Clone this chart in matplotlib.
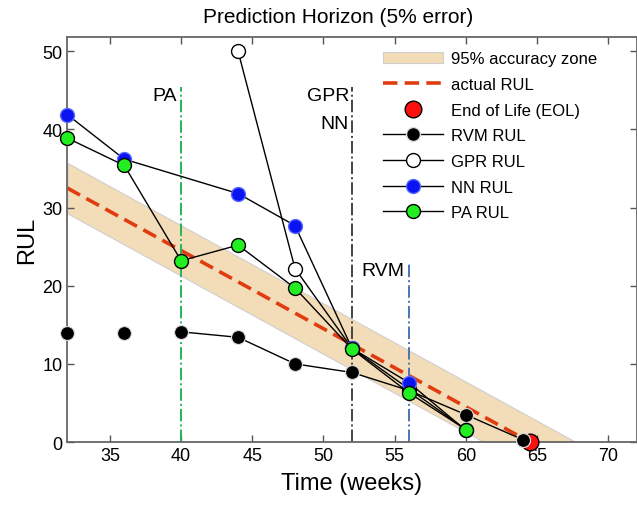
import matplotlib
matplotlib.use("Agg")
import matplotlib.pyplot as plt
import numpy as np

plt.rcParams['font.family'] = ['Liberation Sans', 'DejaVu Sans']

# ---- data ----
eol = 64.5
err = 0.05

rvm_t = [32, 36, 40, 44, 48, 52, 56, 60, 64]
rvm_y = [14.0, 14.0, 14.1, 13.4, 10.0, 8.9, 6.6, 3.5, 0.3]
gpr_t = [44, 48, 52, 56, 60]
gpr_y = [50.0, 22.2, 12.0, 6.8, 1.6]
nn_t = [32, 36, 44, 48, 52, 56, 60]
nn_y = [41.9, 36.2, 31.8, 27.7, 12.0, 7.6, 1.5]
pa_t = [32, 36, 40, 44, 48, 52, 56, 60]
pa_y = [38.9, 35.4, 23.2, 25.2, 19.7, 11.9, 6.3, 1.6]

horizon_t = {'PA': 40, 'GPR/NN': 52, 'RVM': 56}
horizon_top = {'PA': 45.4, 'GPR/NN': 45.4, 'RVM': 23.0}

xticks = [35, 40, 45, 50, 55, 60, 65, 70]
yticks = [0, 10, 20, 30, 40, 50]

# ---- figure ----
fig = plt.figure(figsize=(6.37, 5.06), dpi=100)
ax = fig.add_axes([0.1057, 0.1245, 0.8936, 0.7998])

tt = np.linspace(32, 72, 400)
act = eol - tt
band_w = err * eol
ax.fill_between(tt, np.clip(act - band_w, 0, None), np.clip(act + band_w, 0, None),
                where=(act + band_w) > 0, color='#f3dcb8', edgecolor='#cfcfcf',
                linewidth=0.8, label='95% accuracy zone', zorder=1)
ta = np.linspace(32, eol, 50)
ax.plot(ta, eol - ta, color='#e03c10', linestyle=(0, (4, 2)), linewidth=2.6,
        label='actual RUL', zorder=2)

# horizon lines
ax.plot([horizon_t['PA']] * 2, [0, horizon_top['PA']], color='#22b556',
        linestyle='-.', linewidth=1.4, zorder=2)
ax.plot([horizon_t['GPR/NN']] * 2, [0, horizon_top['GPR/NN']], color='#444444',
        linestyle='-.', linewidth=1.4, zorder=2)
ax.plot([horizon_t['RVM']] * 2, [0, horizon_top['RVM']], color='#4a76b0',
        linestyle='-.', linewidth=1.4, zorder=2)

ax.text(39.7, 44.3, 'PA', ha='right', va='center', fontsize=14)
ax.text(51.8, 44.3, 'GPR', ha='right', va='center', fontsize=14)
ax.text(51.8, 40.8, 'NN', ha='right', va='center', fontsize=14)
ax.text(55.7, 22.0, 'RVM', ha='right', va='center', fontsize=14)

ms = 10
# RVM: first two points unconnected
ax.plot(rvm_t[2:], rvm_y[2:], color='black', linewidth=1, zorder=3)
ax.plot(rvm_t, rvm_y, linestyle='none', marker='o', markersize=ms,
        markerfacecolor='black', markeredgecolor='#dddddd', markeredgewidth=0.8,
        zorder=4, clip_on=False)
ax.plot([], [], color='black', linewidth=1, marker='o', markersize=ms,
        markerfacecolor='black', markeredgecolor='#dddddd', label='RVM RUL')

ax.plot(gpr_t, gpr_y, color='black', linewidth=1, marker='o', markersize=ms,
        markerfacecolor='white', markeredgecolor='black', markeredgewidth=1,
        label='GPR RUL', zorder=4, clip_on=False)
ax.plot(nn_t, nn_y, color='black', linewidth=1, marker='o', markersize=ms,
        markerfacecolor='#0a14f0', markeredgecolor='#5566ff', markeredgewidth=1,
        label='NN RUL', zorder=5, clip_on=False)
ax.plot(pa_t, pa_y, color='black', linewidth=1, marker='o', markersize=ms,
        markerfacecolor='#22ee22', markeredgecolor='black', markeredgewidth=1,
        label='PA RUL', zorder=6, clip_on=False)

ax.plot([eol], [0], linestyle='none', marker='o', markersize=12,
        markerfacecolor='#ff1010', markeredgecolor='black', markeredgewidth=1,
        label='End of Life (EOL)', zorder=3, clip_on=False)
ax.plot([rvm_t[-1]], [rvm_y[-1]], linestyle='none', marker='o', markersize=ms,
        markerfacecolor='black', markeredgecolor='#dddddd', markeredgewidth=0.8,
        zorder=4, clip_on=False)

ax.set_xlim(32, 72)
ax.set_ylim(0, 51.8)
ax.set_xticks(xticks)
ax.set_yticks(yticks)
ax.tick_params(direction='in', top=True, right=True, labelsize=13,
               length=5, width=1, color='#555555')
for s in ax.spines.values():
    s.set_color('#666666')
    s.set_linewidth(1.3)

ax.set_xlabel('Time (weeks)', fontsize=17, labelpad=6)
ax.set_ylabel('RUL', fontsize=17, labelpad=3)
ax.set_title('Prediction Horizon (5% error)', fontsize=15, pad=11, x=0.476)

handles, labels = ax.get_legend_handles_labels()
order = ['95% accuracy zone', 'actual RUL', 'End of Life (EOL)', 'RVM RUL',
         'GPR RUL', 'NN RUL', 'PA RUL']
hmap = dict(zip(labels, handles))
leg = ax.legend([hmap[k] for k in order], order, loc='upper left',
                bbox_to_anchor=(0.543, 0.982), fontsize=12, frameon=True,
                edgecolor='white', framealpha=1, fancybox=False,
                handlelength=3.6, handletextpad=0.45, labelspacing=0.64,
                borderaxespad=0)
leg.set_zorder(10)

fig.savefig('out.png', dpi=100)
